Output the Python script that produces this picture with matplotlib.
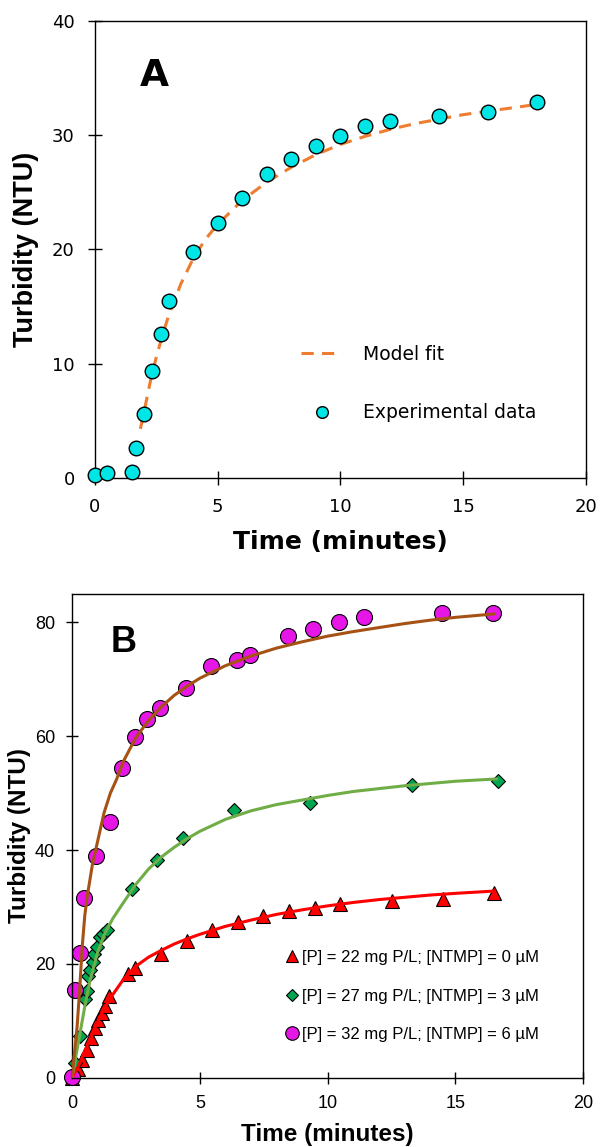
import matplotlib
matplotlib.use('Agg')
import matplotlib.pyplot as plt

# ---- panel A data ----
a_time = [0, 0.5, 1.5, 1.67, 2.0, 2.33, 2.67, 3.0, 4, 5, 6, 7, 8, 9, 10, 11, 12, 14, 16, 18]
a_turb = [0.25, 0.45, 0.55, 2.6, 5.6, 9.35, 12.6, 15.45, 19.8, 22.3, 24.5, 26.6, 27.9, 29.05,
          29.9, 30.8, 31.25, 31.7, 32.0, 32.95]
a_fit_t = [1.85, 2.0, 2.25, 2.5, 2.75, 3.0, 3.5, 4.0, 4.5, 5, 6, 7, 8, 9, 10, 11, 12, 13, 14,
           15, 16, 17, 18]
a_fit_y = [4.3, 5.8, 8.4, 10.6, 12.5, 14.2, 17.0, 19.2, 20.9, 22.2, 24.3, 25.9, 27.2, 28.3,
           29.2, 29.9, 30.5, 31.0, 31.4, 31.8, 32.1, 32.4, 32.7]

# ---- panel B data ----
red_t = [0, 0.25, 0.4, 0.57, 0.73, 0.9, 1.03, 1.16, 1.29, 1.46, 2.2, 2.48, 3.47, 4.48, 5.49,
         6.48, 7.47, 8.47, 9.49, 10.47, 12.5, 14.51, 16.51]
red_y = [0, 1.5, 3.1, 4.8, 6.9, 8.7, 10.1, 11.4, 12.6, 14.4, 18.2, 19.2, 21.7, 24.1, 26.0,
         27.4, 28.4, 29.3, 29.9, 30.5, 31.0, 31.4, 32.4]
green_t = [0.12, 0.33, 0.51, 0.57, 0.64, 0.7, 0.81, 0.88, 0.98, 1.1, 1.22, 1.35, 2.36, 3.34,
           4.35, 6.33, 9.31, 13.31, 16.66]
green_y = [2.6, 7.3, 13.9, 15.2, 17.8, 18.9, 20.4, 21.7, 23.0, 24.8, 25.3, 26.0, 33.1, 38.3,
           42.1, 47.0, 48.2, 51.5, 52.1]
mag_t = [0, 0.1, 0.32, 0.47, 0.95, 1.47, 1.94, 2.45, 2.95, 3.46, 4.45, 5.44, 6.47, 6.98, 8.45,
         9.44, 10.44, 11.43, 14.48, 16.47]
mag_y = [0.2, 15.4, 22.0, 31.5, 38.9, 45.0, 54.4, 59.8, 63.0, 65.0, 68.4, 72.4, 73.4, 74.3,
         77.7, 78.8, 80.1, 81.0, 81.7, 81.6]

fit_red_t = [0, 0.25, 0.5, 0.75, 1.0, 1.25, 1.5, 2.0, 2.5, 3.0, 3.5, 4.0, 4.5, 5.0, 6, 7, 8, 9,
             10, 11, 12, 13, 14, 15, 16.5]
fit_red_y = [0, 2.0, 4.7, 7.3, 9.8, 12.0, 14.0, 17.2, 19.6, 21.2, 22.4, 23.5, 24.4, 25.2, 26.6,
             27.7, 28.7, 29.5, 30.2, 30.8, 31.3, 31.7, 32.1, 32.4, 32.8]
fit_green_t = [0, 0.12, 0.3, 0.5, 0.7, 1.0, 1.3, 1.6, 2.0, 2.5, 3.0, 3.5, 4.0, 4.5, 5, 6, 7, 8,
               9, 10, 11, 12, 13, 14, 15, 16.6]
fit_green_y = [0, 3.0, 7.5, 12.5, 17.0, 22.0, 25.5, 28.0, 30.7, 34.0, 36.7, 38.8, 40.5, 42.0,
               43.3, 45.4, 46.9, 48.0, 48.8, 49.6, 50.3, 50.8, 51.3, 51.7, 52.1, 52.5]
fit_brown_t = [0, 0.1, 0.2, 0.3, 0.4, 0.5, 0.6, 0.8, 1.0, 1.25, 1.5, 1.75, 2.0, 2.5, 3.0, 3.5,
               4.0, 4.5, 5.0, 6, 7, 8, 9, 10, 11, 12, 13, 14, 15, 16.5]
fit_brown_y = [0, 4.5, 9, 15.5, 23, 28.5, 32, 37.5, 41.5, 46.5, 50, 52.5, 55.5, 59.8, 62.8,
               65.2, 67.2, 68.8, 70.2, 72.4, 74.1, 75.5, 76.6, 77.6, 78.4, 79.1, 79.8, 80.4,
               80.9, 81.5]

legend_b = ['[P] = 22 mg P/L; [NTMP] = 0 µM',
            '[P] = 27 mg P/L; [NTMP] = 3 µM',
            '[P] = 32 mg P/L; [NTMP] = 6 µM']

fig = plt.figure(figsize=(6.03, 11.47), dpi=100)

# ---------------- panel A ----------------
fa = 'DejaVu Sans'
fb = 'Liberation Sans'
ax = fig.add_axes([0.1575, 0.5833, 0.8143, 0.3984])
ax.plot(a_fit_t, a_fit_y, color='#ED7D31', lw=2.2, dashes=(4, 2.7), label='Model fit',
        zorder=2)
ax.plot(a_time, a_turb, 'o', ms=10.5, mfc='#00E6E6', mec='black', mew=1.0,
        label='Experimental data', clip_on=False, zorder=3)
ax.set_xlim(0, 20)
ax.set_ylim(0, 40)
ax.set_xticks([0, 5, 10, 15, 20])
ax.set_yticks([0, 10, 20, 30, 40])
ax.tick_params(direction='inout', length=10, width=1, labelsize=13, pad=9.5)
for lab in ax.get_xticklabels() + ax.get_yticklabels():
    lab.set_family(fa)
for s in ax.spines.values():
    s.set_linewidth(1.0)
ax.set_xlabel('Time (minutes)', fontsize=18, fontweight='bold', family=fa)
ax.set_ylabel('Turbidity (NTU)', fontsize=19.5, fontweight='bold', family=fb)
ax.xaxis.set_label_coords(0.5, -0.114)
ax.yaxis.set_label_coords(-0.115, 0.5)
ax.text(2.42, 35.2, 'A', fontsize=27, fontweight='bold', family=fa, ha='center', va='center')
ax.legend(loc='upper left', bbox_to_anchor=(0.42, 0.291), frameon=False, borderpad=0,
          borderaxespad=0, handlelength=2.2, handletextpad=1.1, labelspacing=2.1,
          markerscale=0.8, prop={'family': fa, 'size': 13.5})

# ---------------- panel B ----------------
bx = fig.add_axes([0.1194, 0.0604, 0.8479, 0.4217])
bx.plot(red_t, red_y, '^', ms=10.5, mfc='#FF0000', mec='black', mew=0.8, clip_on=False,
        label=legend_b[0], zorder=2)
bx.plot(green_t, green_y, 'D', ms=7, mfc='#00A651', mec='black', mew=0.8, clip_on=False,
        label=legend_b[1], zorder=2)
bx.plot(mag_t, mag_y, 'o', ms=11.5, mfc='#E617E6', mec='black', mew=0.8, clip_on=False,
        label=legend_b[2], zorder=2)
bx.plot(fit_red_t, fit_red_y, color='#FF0000', lw=2.2, zorder=3)
bx.plot(fit_green_t, fit_green_y, color='#70AD47', lw=2.2, zorder=3)
bx.plot(fit_brown_t, fit_brown_y, color='#A65214', lw=2.2, zorder=3)
bx.set_xlim(0, 20)
bx.set_ylim(0, 85)
bx.set_xticks([0, 5, 10, 15, 20])
bx.set_yticks([0, 20, 40, 60, 80])
bx.tick_params(direction='inout', length=8.5, width=1, labelsize=13, pad=8)
for lab in bx.get_xticklabels() + bx.get_yticklabels():
    lab.set_family(fb)
for s in bx.spines.values():
    s.set_linewidth(1.0)
bx.set_xlabel('Time (minutes)', fontsize=17.5, fontweight='bold', family=fb)
bx.set_ylabel('Turbidity (NTU)', fontsize=17.5, fontweight='bold', family=fb)
bx.xaxis.set_label_coords(0.5, -0.094)
bx.yaxis.set_label_coords(-0.08, 0.5)
bx.text(2.03, 76.4, 'B', fontsize=26, fontweight='bold', family=fb, ha='center', va='center')
bx.legend(loc='upper left', bbox_to_anchor=(0.416, 0.264), frameon=False, borderpad=0,
          borderaxespad=0, handlelength=0.9, handletextpad=0.15, labelspacing=1.41,
          markerscale=0.85, prop={'family': fb, 'size': 12})

fig.savefig('out.png', dpi=100)
